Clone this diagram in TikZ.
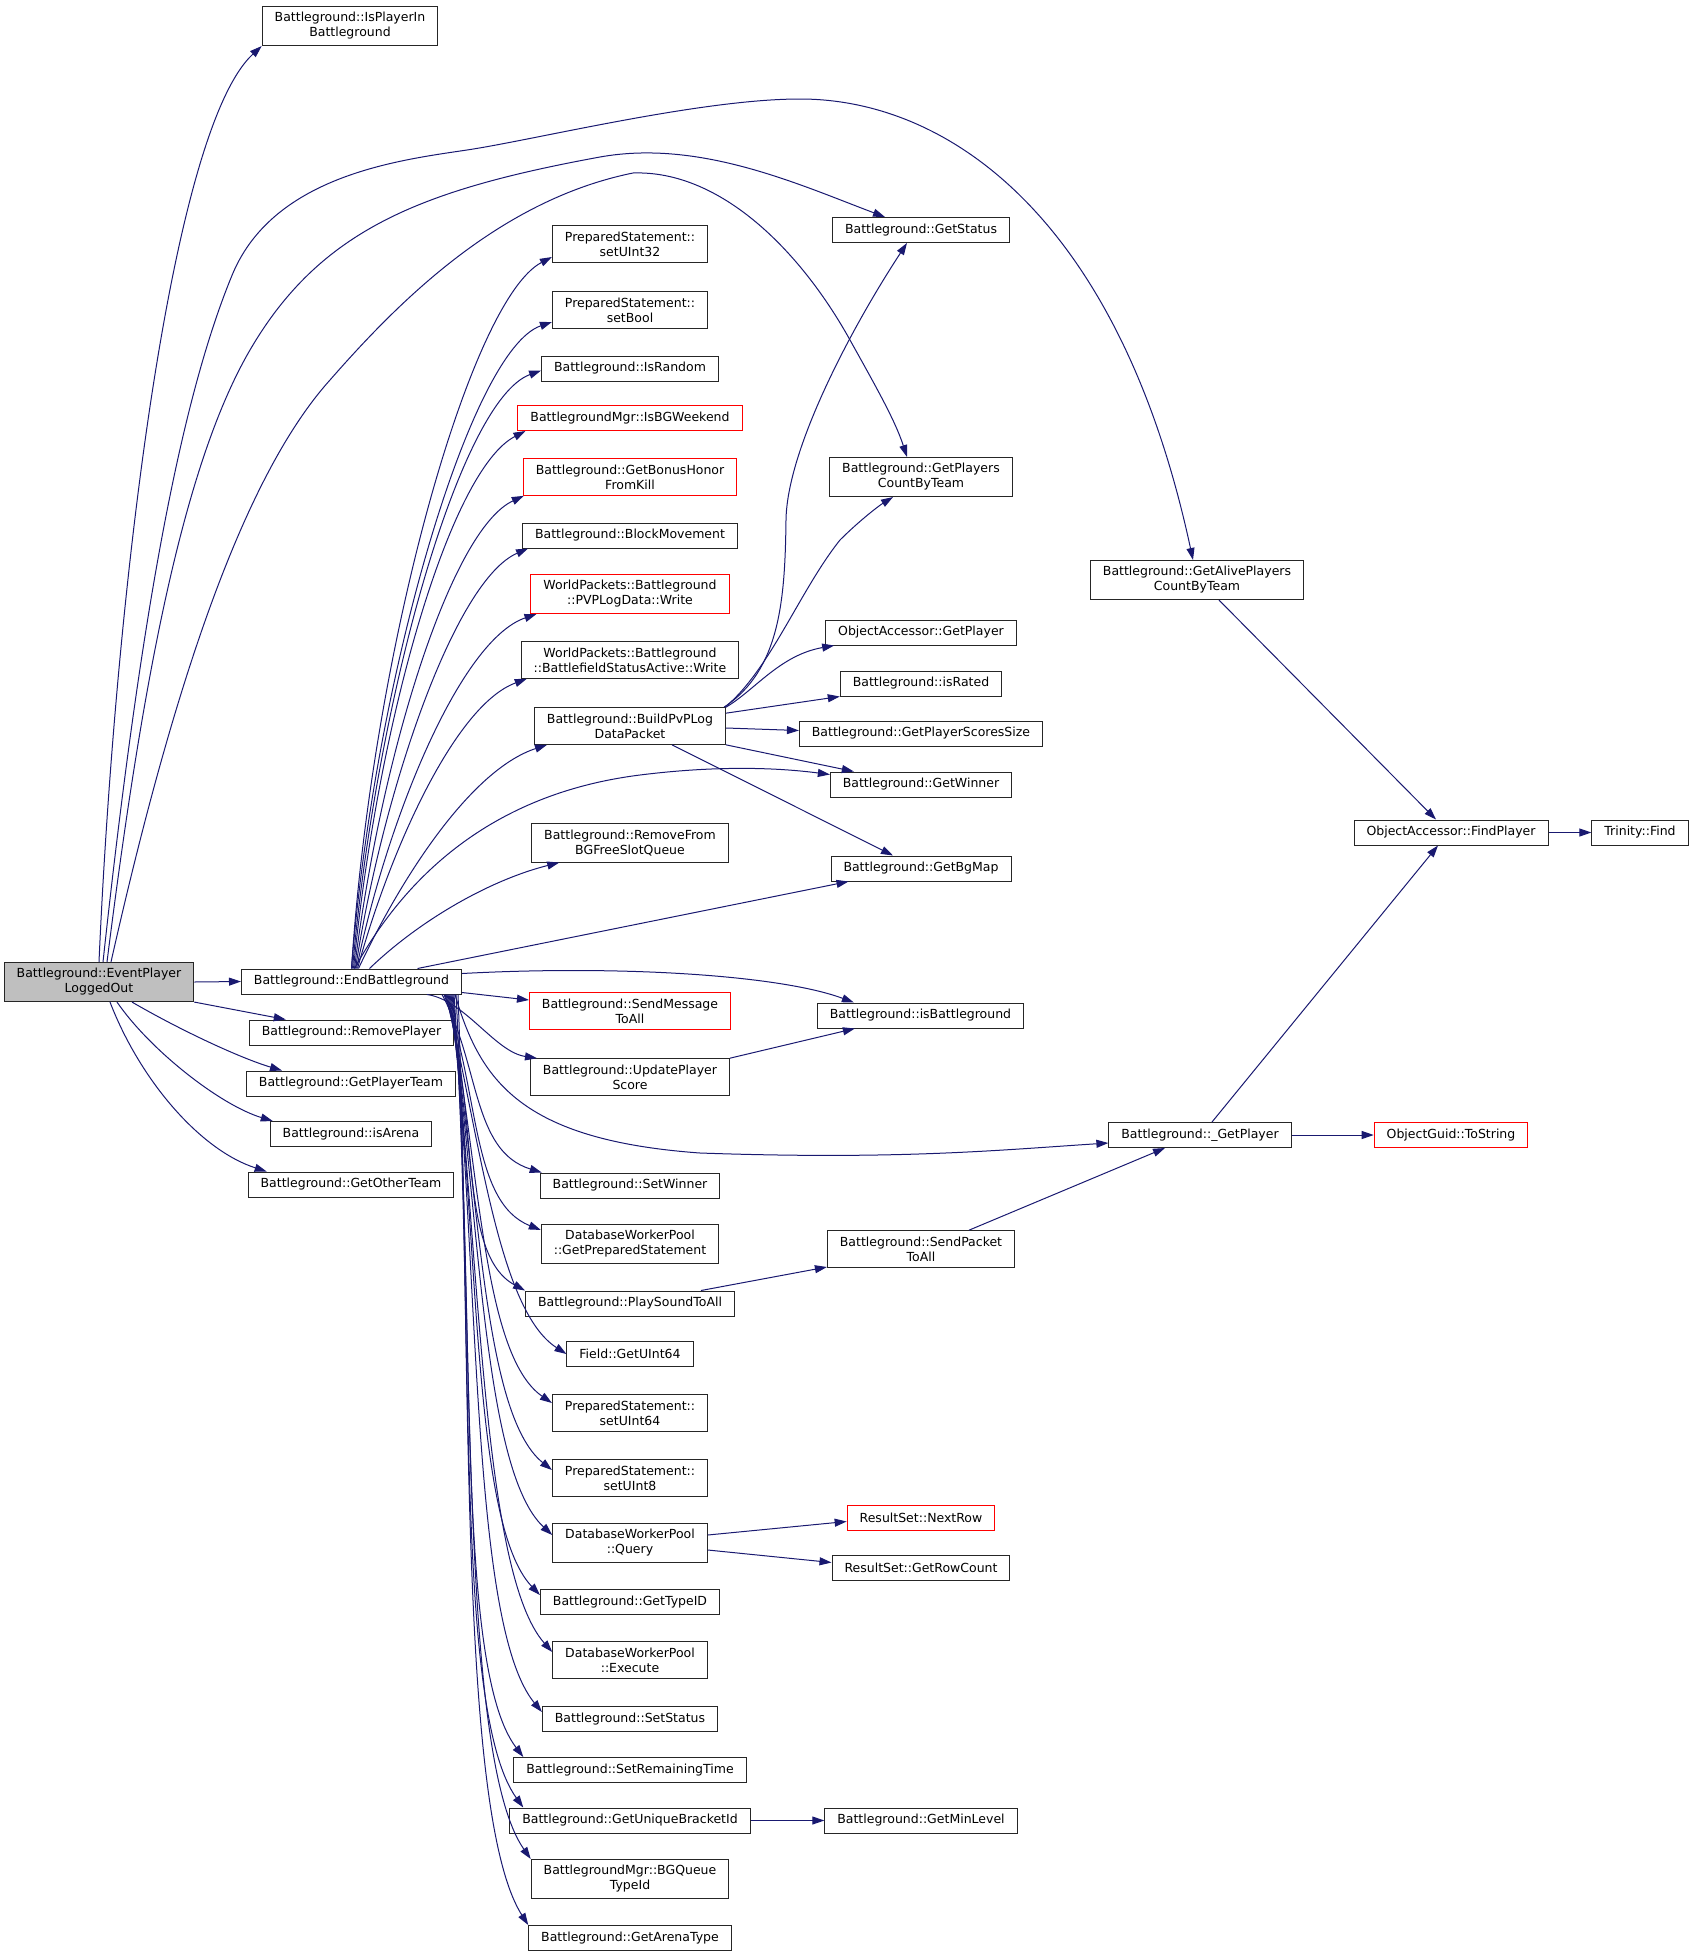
\documentclass[tikz,border=0pt]{standalone}
\usepackage{fontspec}
\setmainfont{DejaVu Sans}
\usetikzlibrary{arrows.meta}
\definecolor{callblue}{HTML}{191970}
\tikzset{
  fn/.style={draw=black!85, fill=white, line width=1pt, rectangle, align=center,
    inner xsep=12.5pt, inner ysep=6pt, minimum height=25pt,
    font=\fontsize{12.5}{15}\selectfont},
  fnred/.style={fn, draw=red},
  fnroot/.style={fn, fill=black!25},
  call/.style={draw=callblue, line width=1pt, -{Triangle[length=12pt,width=8pt]}},
}
\begin{document}
\begin{tikzpicture}[x=1pt,y=-1pt]
\useasboundingbox (0,0) rectangle (1691,1957);
% left column
\node[fnroot] (evtlogout) at (99,982) {Battleground::EventPlayer\\LoggedOut};
\node[fn] (isplayerin) at (350,26) {Battleground::IsPlayerIn\\Battleground};
\node[fn] (endbg) at (351.5,981.5) {Battleground::EndBattleground};
\node[fn] (removeplayer) at (351.5,1032.5) {Battleground::RemovePlayer};
\node[fn] (getplayerteam) at (351,1083.5) {Battleground::GetPlayerTeam};
\node[fn] (isarena) at (351,1134) {Battleground::isArena};
\node[fn] (getotherteam) at (351,1184.5) {Battleground::GetOtherTeam};
% middle column
\node[fn] (setuint32) at (630,244) {PreparedStatement::\\setUInt32};
\node[fn] (setbool) at (630,310) {PreparedStatement::\\setBool};
\node[fn] (israndom) at (630,368.5) {Battleground::IsRandom};
\node[fnred] (isbgweekend) at (630,418) {BattlegroundMgr::IsBGWeekend};
\node[fnred] (bonushonor) at (630,477) {Battleground::GetBonusHonor\\FromKill};
\node[fn] (blockmove) at (630,535.5) {Battleground::BlockMovement};
\node[fnred] (pvplogwrite) at (630,594) {WorldPackets::Battleground\\::PVPLogData::Write};
\node[fn] (statuswrite) at (630,660) {WorldPackets::Battleground\\::BattlefieldStatusActive::Write};
\node[fn] (buildpvplog) at (630,726) {Battleground::BuildPvPLog\\DataPacket};
\node[fn] (freeslotq) at (630,843) {Battleground::RemoveFrom\\BGFreeSlotQueue};
\node[fnred] (sendmsg) at (630,1011) {Battleground::SendMessage\\ToAll};
\node[fn] (updatescore) at (630,1077) {Battleground::UpdatePlayer\\Score};
\node[fn] (setwinner) at (630,1185.5) {Battleground::SetWinner};
\node[fn] (getprepared) at (630,1244) {DatabaseWorkerPool\\::GetPreparedStatement};
\node[fn] (playsound) at (630,1303.5) {Battleground::PlaySoundToAll};
\node[fn] (getuint64) at (630,1354) {Field::GetUInt64};
\node[fn] (setuint64) at (630,1413) {PreparedStatement::\\setUInt64};
\node[fn] (setuint8) at (630,1478) {PreparedStatement::\\setUInt8};
\node[fn] (dbquery) at (630,1543) {DatabaseWorkerPool\\::Query};
\node[fn] (gettypeid) at (630,1602) {Battleground::GetTypeID};
\node[fn] (dbexecute) at (630,1660) {DatabaseWorkerPool\\::Execute};
\node[fn] (setstatus) at (630,1719) {Battleground::SetStatus};
\node[fn] (setremaining) at (630,1770) {Battleground::SetRemainingTime};
\node[fn] (bracketid) at (630,1820.5) {Battleground::GetUniqueBracketId};
\node[fn] (bgqueuetype) at (630,1879) {BattlegroundMgr::BGQueue\\TypeId};
\node[fn] (arenatype) at (630,1938) {Battleground::GetArenaType};
% right column
\node[fn] (getstatus) at (921,230) {Battleground::GetStatus};
\node[fn] (countbyteam) at (921,477) {Battleground::GetPlayers\\CountByTeam};
\node[fn] (oagetplayer) at (921,632.5) {ObjectAccessor::GetPlayer};
\node[fn] (israted) at (921,683.5) {Battleground::isRated};
\node[fn] (scoressize) at (921,733.5) {Battleground::GetPlayerScoresSize};
\node[fn] (getwinner) at (921,784.5) {Battleground::GetWinner};
\node[fn] (getbgmap) at (921,868.5) {Battleground::GetBgMap};
\node[fn] (isbattleground) at (920.5,1015.5) {Battleground::isBattleground};
\node[fn] (sendpacket) at (921,1249) {Battleground::SendPacket\\ToAll};
\node[fnred] (nextrow) at (921,1517.5) {ResultSet::NextRow};
\node[fn] (rowcount) at (921,1567.5) {ResultSet::GetRowCount};
\node[fn] (minlevel) at (921,1820.5) {Battleground::GetMinLevel};
% far right
\node[fn] (aliveplayers) at (1197,580) {Battleground::GetAlivePlayers\\CountByTeam};
\node[fn] (privgetplayer) at (1200,1135) {Battleground::\_GetPlayer};
\node[fn] (findplayer) at (1451,832.5) {ObjectAccessor::FindPlayer};
\node[fnred] (tostring) at (1451,1135) {ObjectGuid::ToString};
\node[fn] (trinityfind) at (1640,832.5) {Trinity::Find};

% calls of EventPlayerLoggedOut
\draw[call] (evtlogout.north) .. controls (115,600) and (170,130) .. (isplayerin.south west);
\draw[call] ([xshift=4pt]evtlogout.north) .. controls (140,620) and (180,400) .. (233,273)
  .. controls (275,175) and (400,160) .. (467,150) .. controls (534,140) and (700,99) .. (800,99)
  .. controls (950,99) and (1120,220) .. ([xshift=-4pt]aliveplayers.north);
\draw[call] ([xshift=8pt]evtlogout.north) .. controls (140,700) and (180,470) .. (250,350)
  .. controls (320,230) and (420,190) .. (600,157) .. controls (700,139) and (800,185) .. ([xshift=-36pt]getstatus.north);
\draw[call] ([xshift=12pt]evtlogout.north) .. controls (170,700) and (240,480) .. (330,380)
  .. controls (400,300) and (500,200) .. (633,173) .. controls (720,170) and (800,250) .. (850,340)
  .. controls (875,385) and (895,420) .. ([xshift=-14pt]countbyteam.north);
\draw[call] (evtlogout.east) -- (endbg.west);
\draw[call] (evtlogout.south east) -- ([xshift=37pt]removeplayer.north west);
\draw[call] ([xshift=33pt]evtlogout.south) .. controls (180,1030) and (240,1058) .. ([xshift=36pt]getplayerteam.north west);
\draw[call] ([xshift=18pt]evtlogout.south) .. controls (150,1050) and (220,1105) .. ([xshift=3pt]isarena.north west);
\draw[call] ([xshift=11pt]evtlogout.south) .. controls (140,1080) and (200,1150) .. ([xshift=19pt]getotherteam.north west);

% calls of EndBattleground, upwards
\draw[call] (endbg.north) .. controls (372,650) and (470,300) .. ([yshift=-13pt]setuint32.west);
\draw[call] (endbg.north) .. controls (374,680) and (470,350) .. ([yshift=-12pt]setbool.west);
\draw[call] ([xshift=1pt]endbg.north) .. controls (376,700) and (460,400) .. ([yshift=-2pt]israndom.west);
\draw[call] ([xshift=2pt]endbg.north) .. controls (378,720) and (450,470) .. ([xshift=8pt]isbgweekend.south west);
\draw[call] ([xshift=3pt]endbg.north) .. controls (380,760) and (450,530) .. ([xshift=1pt]bonushonor.south west);
\draw[call] ([xshift=4pt]endbg.north) .. controls (383,790) and (455,580) .. ([xshift=6pt]blockmove.south west);
\draw[call] ([xshift=5pt]endbg.north) .. controls (387,820) and (460,640) .. ([xshift=6pt]pvplogwrite.south west);
\draw[call] ([xshift=6pt]endbg.north) .. controls (390,850) and (455,705) .. ([xshift=6pt]statuswrite.south west);
\draw[call] ([xshift=7pt]endbg.north) .. controls (400,880) and (470,770) .. ([xshift=13pt]buildpvplog.south west);
\draw[call] ([xshift=18pt]endbg.north) .. controls (420,920) and (490,880) .. ([xshift=28pt]freeslotq.south west);
\draw[call] ([xshift=3pt]endbg.north) .. controls (420,850) and (520,790) .. (640,775)
  .. controls (720,765) and (780,768) .. ([yshift=10pt]getwinner.west);
\draw[call] ([xshift=66pt]endbg.north) -- ([xshift=18pt]getbgmap.south west);
\draw[call] ([yshift=8pt]endbg.east) .. controls (620,965) and (780,975) .. ([xshift=37pt]isbattleground.north west);
\draw[call] ([yshift=-11pt]endbg.east) -- ([yshift=11pt]sendmsg.west);
\draw[call] ([xshift=-35pt]endbg.south east) .. controls (465,1000) and (495,1052) .. ([xshift=7pt]updatescore.north west);
\draw[call] ([xshift=-7pt]endbg.south east) .. controls (480,1080) and (520,1140) .. (700,1153)
  .. controls (900,1160) and (1000,1150) .. ([yshift=-8pt]privgetplayer.west);

% calls of EndBattleground, downwards
\draw[call] ([xshift=-20pt]endbg.south east) .. controls (480,1065) and (472,1151) .. ([xshift=2pt]setwinner.north west);
\draw[call] ([xshift=-18pt]endbg.south east) .. controls (480,1088) and (470,1202) .. ([yshift=-6pt]getprepared.north west);
\draw[call] ([xshift=-17pt]endbg.south east) .. controls (480,1112) and (457,1254) .. (playsound.north west);
\draw[call] ([xshift=-16pt]endbg.south east) .. controls (480,1138) and (498,1310) .. (getuint64.west);
\draw[call] ([xshift=-15pt]endbg.south east) .. controls (480,1158) and (481,1354) .. ([yshift=10pt]setuint64.west);
\draw[call] ([xshift=-14pt]endbg.south east) .. controls (480,1184) and (481,1413) .. ([yshift=8pt]setuint8.west);
\draw[call] ([xshift=-13pt]endbg.south east) .. controls (480,1210) and (482,1470) .. ([yshift=8pt]dbquery.west);
\draw[call] ([xshift=-12pt]endbg.south east) .. controls (480,1234) and (471,1523) .. ([yshift=7pt]gettypeid.west);
\draw[call] ([xshift=-11pt]endbg.south east) .. controls (480,1257) and (482,1573) .. ([yshift=8pt]dbexecute.west);
\draw[call] ([xshift=-10pt]endbg.south east) .. controls (480,1281) and (471,1626) .. ([yshift=7pt]setstatus.west);
\draw[call] ([xshift=-9pt]endbg.south east) .. controls (478,1299) and (453,1665) .. ([xshift=10pt]setremaining.north west);
\draw[call] ([xshift=-8pt]endbg.south east) .. controls (476,1320) and (453,1710) .. ([xshift=14pt]bracketid.north west);
\draw[call] ([xshift=-6pt]endbg.south east) .. controls (474,1341) and (460,1758) .. (bgqueuetype.north west);
\draw[call] ([xshift=-4pt]endbg.south east) .. controls (472,1367) and (458,1815) .. (arenatype.north west);

% calls of BuildPvPLogDataPacket
\draw[call] ([xshift=-2pt]buildpvplog.north east) .. controls (780,670) and (785,600) .. (786,520)
  .. controls (787,450) and (850,330) .. ([xshift=-14pt]getstatus.south);
\draw[call] ([xshift=-1pt]buildpvplog.north east) .. controls (770,670) and (800,590) .. (840,540)
  .. controls (860,520) and (880,505) .. ([xshift=-28pt]countbyteam.south);
\draw[call] (buildpvplog.north east) .. controls (755,690) and (780,655) .. ([xshift=9pt]oagetplayer.south west);
\draw[call] ([yshift=-6pt]buildpvplog.north east) -- (israted.south west);
\draw[call] ([yshift=-2pt]buildpvplog.east) -- ([yshift=3pt]scoressize.west);
\draw[call] (buildpvplog.south east) -- ([xshift=24pt]getwinner.north west);
\draw[call] ([xshift=42pt]buildpvplog.south) -- ([xshift=-28pt]getbgmap.north);

% remaining calls
\draw[call] (updatescore.north east) -- ([xshift=38pt]isbattleground.south west);
\draw[call] ([xshift=-34pt]playsound.north east) -- ([yshift=-18pt]sendpacket.west);
\draw[call] ([xshift=48pt]sendpacket.north) -- ([xshift=-35pt]privgetplayer.south);
\draw[call] ([xshift=22pt]aliveplayers.south) -- ([xshift=-15pt]findplayer.north);
\draw[call] ([xshift=12pt]privgetplayer.north) -- ([xshift=-13pt]findplayer.south);
\draw[call] (privgetplayer.east) -- (tostring.west);
\draw[call] (findplayer.east) -- (trinityfind.west);
\draw[call] ([yshift=8pt]dbquery.east) -- ([yshift=-4pt]nextrow.west);
\draw[call] ([yshift=-7pt]dbquery.east) -- ([yshift=5pt]rowcount.west);
\draw[call] (bracketid.east) -- (minlevel.west);
\end{tikzpicture}
\end{document}
